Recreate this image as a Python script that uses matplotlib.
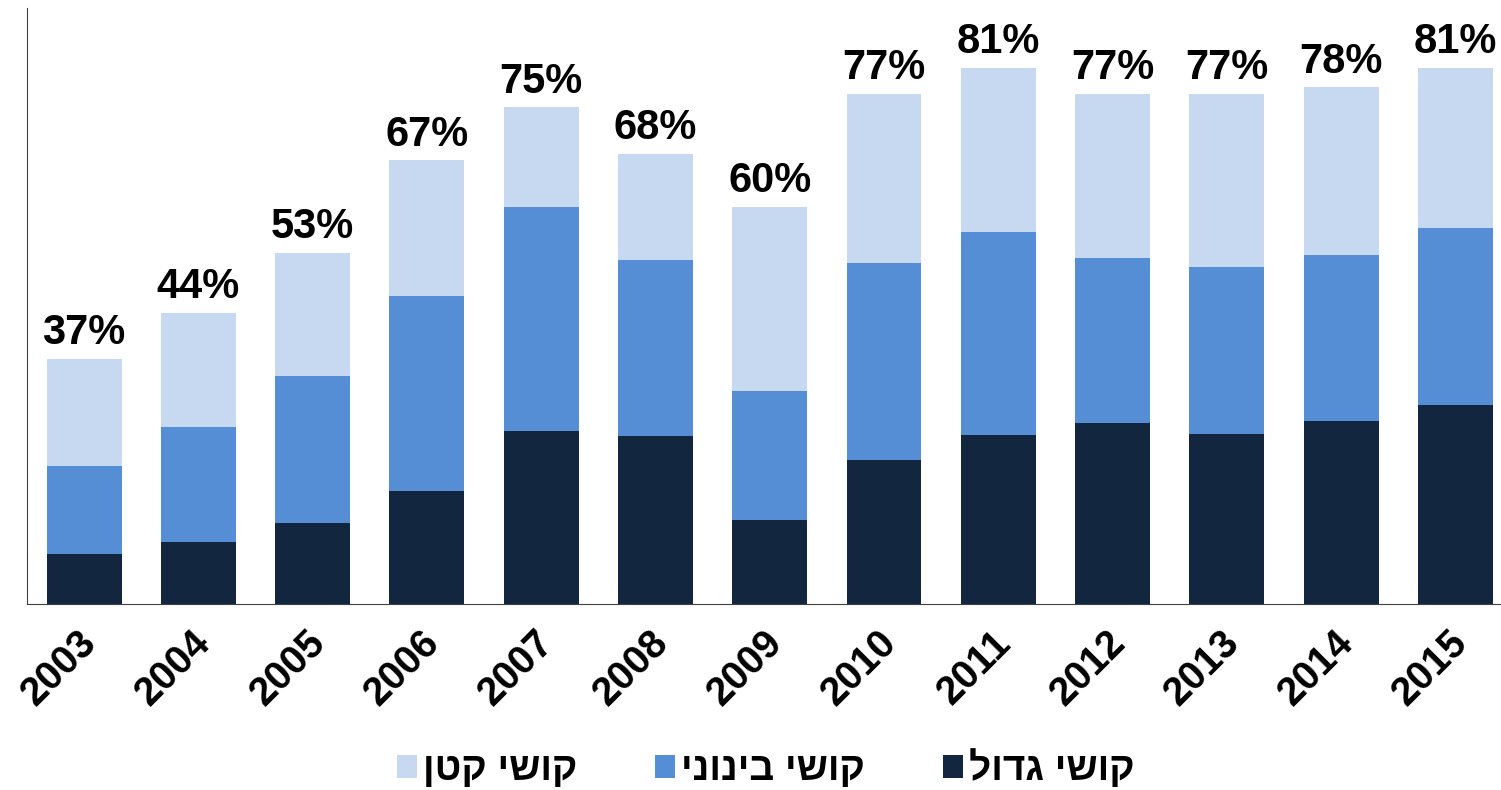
import numpy as np
import matplotlib.pyplot as plt
from matplotlib.transforms import ScaledTranslation

years = ['2003', '2004', '2005', '2006', '2007', '2008', '2009',
         '2010', '2011', '2012', '2013', '2014', '2015']
big = [7.6, 9.4, 12.3, 17.0, 26.1, 25.3, 12.7, 21.8, 25.5, 27.3, 25.6, 27.6, 30.0]
medium = [13.3, 17.3, 22.2, 29.5, 33.9, 26.7, 19.4, 29.7, 30.6, 25.0, 25.3, 25.1, 26.8]
small = [16.1, 17.3, 18.5, 20.5, 15.0, 16.0, 27.9, 25.5, 24.9, 24.7, 26.1, 25.3, 24.2]
totals = [37, 44, 53, 67, 75, 68, 60, 77, 81, 77, 77, 78, 81]

# Hebrew labels (reversed because matplotlib draws left to right)
lbl_small = 'קושי קטן'[::-1]
lbl_medium = 'קושי בינוני'[::-1]
lbl_big = 'קושי גדול'[::-1]

plt.rcParams['font.family'] = ['Liberation Sans', 'DejaVu Sans']
plt.rcParams['font.weight'] = 'bold'

fig = plt.figure(figsize=(15.01, 7.9), dpi=100)
ax = fig.add_axes([0.018, 0.2354, 0.982, 0.7546])

x = np.arange(len(years))
w = 0.656
big = np.array(big)
medium = np.array(medium)
small = np.array(small)

b1 = ax.bar(x, big, w, color='#12263F')
b2 = ax.bar(x, medium, w, bottom=big, color='#558ED5')
b3 = ax.bar(x, small, w, bottom=big + medium, color='#C6D9F1')

tops = big + medium + small
for xi, t, lab in zip(x, tops, totals):
    ax.annotate(f'{lab}%', (xi, t), xytext=(0, 4), textcoords='offset points',
                ha='center', va='bottom', fontsize=30, fontweight='bold')

ax.set_xlim(-0.5, 12.4)
ax.set_ylim(0, 90)
ax.set_xticks(x)
ax.set_xticklabels(years, rotation=45, ha='right', rotation_mode='anchor',
                   fontsize=28.5, fontweight='bold')
ax.tick_params(axis='x', length=0, pad=14)
shift = ScaledTranslation(-0.07, 0, fig.dpi_scale_trans)
for t in ax.get_xticklabels():
    t.set_transform(t.get_transform() + shift)
ax.set_yticks([])
ax.spines['top'].set_visible(False)
ax.spines['right'].set_visible(False)
ax.spines['left'].set_color('#404040')
ax.spines['bottom'].set_color('#404040')

fig.legend([b3, b2, b1], [lbl_small, lbl_medium, lbl_big], loc='center',
           bbox_to_anchor=(0.51, 0.027), ncol=3, frameon=False,
           prop={'size': 28, 'weight': 'bold'}, handlelength=0.52,
           handleheight=0.52, handletextpad=0.15, columnspacing=2.0)

fig.savefig('out.png', dpi=100)
